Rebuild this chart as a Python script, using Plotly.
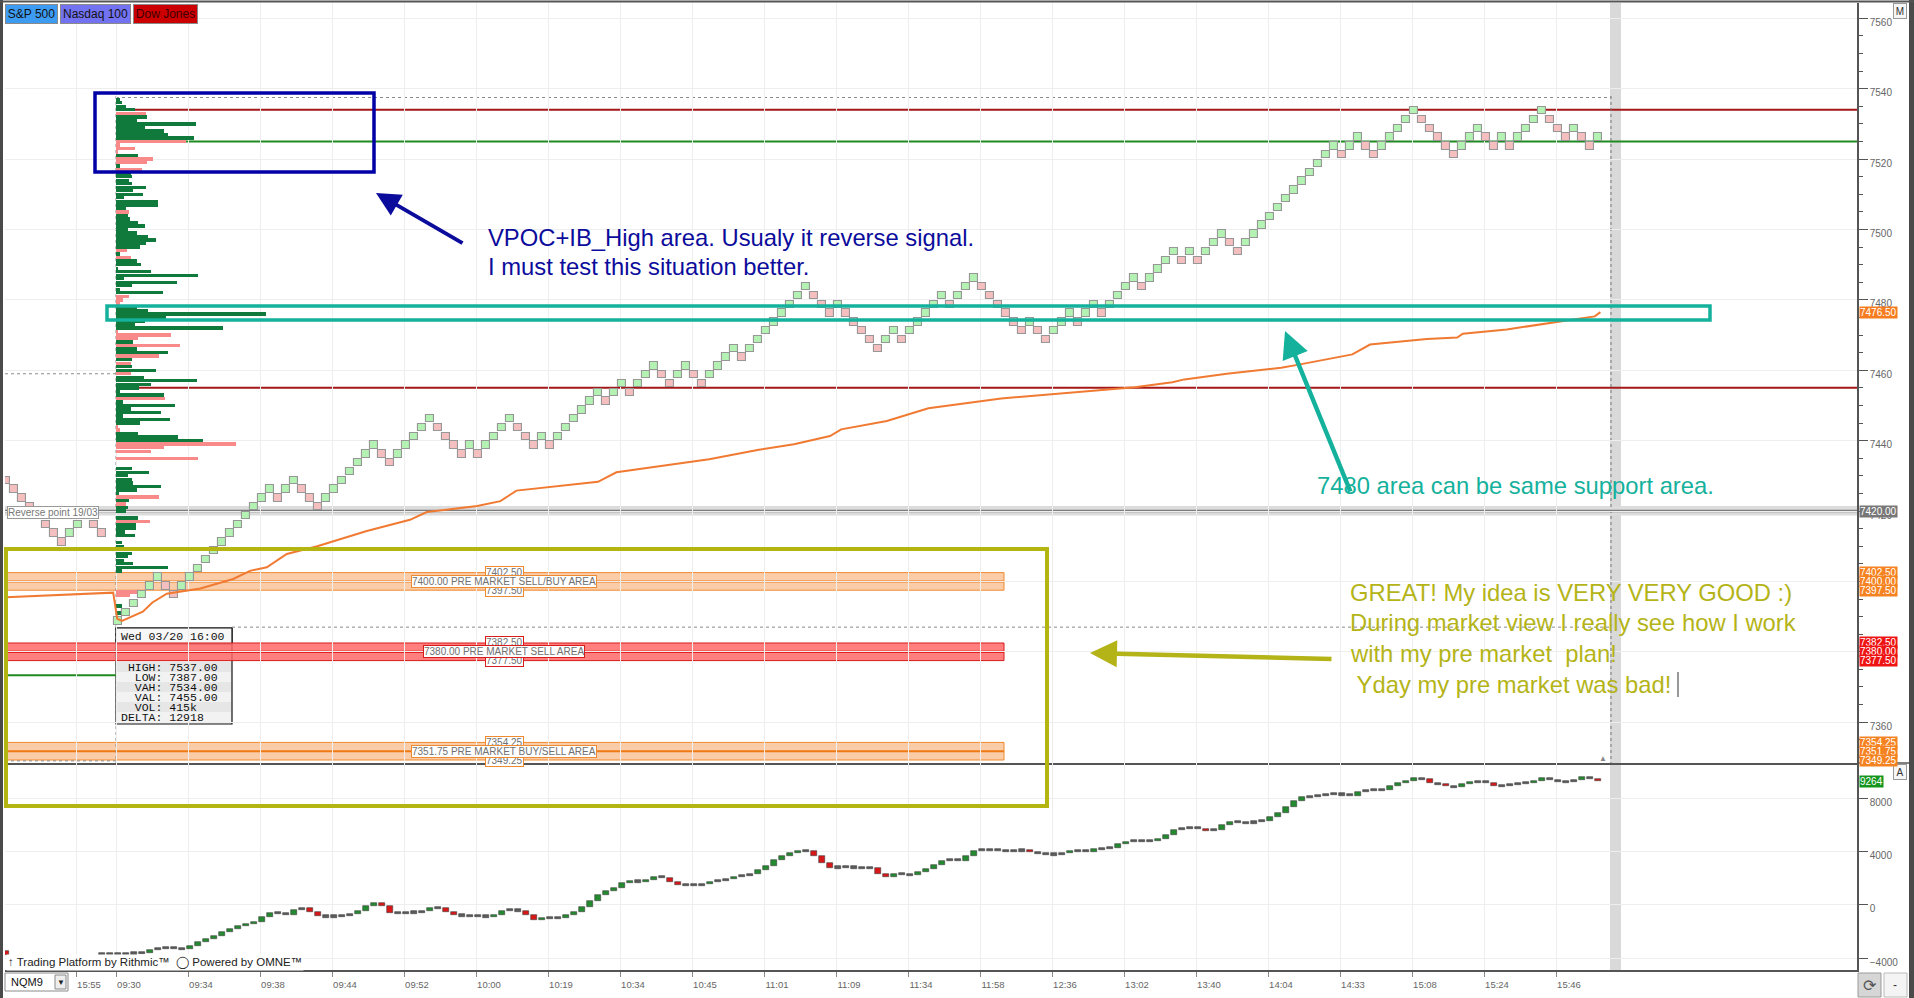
import plotly.graph_objects as go
from plotly.subplots import make_subplots

# ---- values (NQM9, 2.5 pt renko, Wed 03/20) ----

time_labels = ["15:55", "09:30", "09:34", "09:38", "09:44", "09:52", "10:00", "10:19",
               "10:34", "10:45", "11:01", "11:09", "11:34", "11:58", "12:36", "13:02",
               "13:40", "14:04", "14:33", "15:08", "15:24", "15:46"]
time_bars = [-5, 0, 9, 18, 27, 36, 45, 54, 63, 72, 81, 90, 99, 108, 117, 126,
             135, 144, 153, 162, 171, 180]

# brick mid prices, overnight bricks then the RTH session from 09:30
pre_bricks = [7428.75, 7426.25, 7423.75, 7421.25, 7418.75, 7416.25, 7413.75, 7411.25,
              7413.75, 7416.25, 7418.75, 7416.25, 7413.75]
rth_bricks = [
    7388.75, 7391.25, 7393.75, 7396.25, 7398.75, 7401.25, 7398.75, 7396.25, 7398.75, 7401.25,
    7403.75, 7406.25, 7408.75, 7411.25, 7413.75, 7416.25, 7418.75, 7421.25, 7423.75, 7426.25,
    7423.75, 7426.25, 7428.75, 7426.25, 7423.75, 7421.25, 7423.75, 7426.25, 7428.75,
    7431.25, 7433.75, 7436.25, 7438.75, 7436.25, 7433.75, 7436.25, 7438.75, 7441.25, 7443.75,
    7446.25, 7443.75, 7441.25, 7438.75, 7436.25, 7438.75, 7436.25, 7438.75, 7441.25, 7443.75,
    7446.25, 7443.75, 7441.25, 7438.75, 7441.25, 7438.75, 7441.25, 7443.75, 7446.25, 7448.75,
    7451.25, 7453.75, 7451.25, 7453.75, 7456.25, 7453.75, 7456.25, 7458.75, 7461.25, 7458.75,
    7456.25, 7458.75, 7461.25, 7458.75, 7456.25, 7458.75, 7461.25, 7463.75, 7466.25, 7463.75,
    7466.25, 7468.75, 7471.25, 7473.75, 7476.25, 7478.75, 7481.25, 7483.75, 7481.25, 7478.75,
    7476.25, 7478.75, 7476.25, 7473.75, 7471.25, 7468.75, 7466.25, 7468.75,
    7471.25, 7468.75, 7471.25, 7473.75, 7476.25, 7478.75, 7481.25, 7478.75, 7481.25, 7483.75,
    7486.25, 7483.75, 7481.25, 7478.75, 7476.25, 7473.75, 7471.25, 7473.75, 7471.25, 7468.75,
    7471.25, 7473.75, 7476.25, 7473.75, 7476.25, 7478.75, 7476.25, 7478.75, 7481.25, 7483.75,
    7486.25, 7483.75, 7486.25, 7488.75, 7491.25, 7493.75, 7491.25, 7493.75, 7491.25, 7493.75,
    7496.25, 7498.75, 7496.25, 7493.75, 7496.25, 7498.75, 7501.25,
    7503.75, 7506.25, 7508.75, 7511.25, 7513.75, 7516.25, 7518.75, 7521.25, 7523.75, 7521.25,
    7523.75, 7526.25, 7523.75, 7521.25, 7523.75, 7526.25, 7528.75, 7531.25, 7533.75, 7531.25,
    7528.75, 7526.25, 7523.75, 7521.25, 7523.75, 7526.25, 7528.75, 7526.25, 7523.75, 7526.25,
    7523.75, 7526.25, 7528.75, 7531.25, 7533.75, 7531.25, 7528.75, 7526.25, 7528.75, 7526.25,
    7523.75, 7526.25]

# session volume profile, 1 pt rows (buy-side green rows / sell-side red rows)
buy_rows = [7537, 7536, 7535, 7534, 7532, 7531, 7530, 7529, 7528, 7527, 7526, 7521, 7518,
            7516, 7515, 7514, 7513, 7512, 7511, 7510, 7509, 7508, 7507, 7506, 7504, 7503,
            7502, 7501, 7500, 7499, 7498, 7497, 7496, 7495, 7493, 7491, 7490, 7489, 7488,
            7487, 7486, 7485, 7484, 7483, 7482, 7478, 7477, 7476, 7475, 7474, 7473, 7472,
            7468, 7466, 7465, 7463, 7461, 7460, 7458, 7457, 7456, 7455, 7454, 7453, 7451,
            7450, 7449, 7448, 7447, 7446, 7445, 7442, 7441, 7440, 7432, 7431, 7430, 7429,
            7428, 7427, 7426, 7425, 7423, 7421, 7420, 7418, 7416, 7415, 7414, 7413, 7411,
            7410, 7409, 7408, 7407, 7406, 7405, 7404, 7403, 7393, 7391, 7389]
buy_vol = [4, 6, 10, 19, 31, 21, 80, 29, 48, 52, 78, 22, 4,
           15, 16, 13, 16, 30, 17, 27, 8, 42, 42, 10, 12, 14,
           22, 29, 12, 21, 32, 40, 30, 24, 4, 21, 25, 2, 35,
           82, 8, 61, 16, 4, 47, 21, 32, 150, 50, 29, 19, 107,
           17, 21, 52, 16, 16, 40, 28, 81, 35, 23, 4, 48, 7,
           59, 15, 45, 7, 54, 24, 22, 62, 87, 16, 33, 12, 16,
           17, 45, 21, 3, 13, 12, 10, 22, 20, 20, 9, 19, 6,
           8, 36, 16, 12, 8, 17, 52, 6, 6, 6, 6]
sell_rows = [7533, 7525, 7524, 7523, 7522, 7520, 7519, 7517, 7505, 7494, 7492, 7481, 7480,
             7479, 7471, 7470, 7469, 7467, 7464, 7462, 7459, 7452, 7444, 7443, 7439, 7438,
             7437, 7435, 7424, 7422, 7417, 7397, 7396]
sell_vol = [30, 70, 4, 19, 2, 37, 31, 26, 13, 11, 15, 13, 7,
            4, 2, 55, 22, 64, 43, 15, 15, 49, 2, 4, 120, 48,
            35, 82, 43, 10, 34, 24, 14]

# VWAP (bar index, price)
vwap_bar = [-14, -7.6, -3.5, -0.6, -0.1, 0.5, 3.1, 4.3, 6.1, 10.3, 14.4, 16.5, 18.6, 21.1,
            24.9, 31.1, 36.5, 38.6, 44.9, 47.8, 49.8, 60, 62.3, 65.4, 71.1, 73.9, 80.1, 84.5,
            89, 90.4, 96.1, 101.3, 110.4, 119.5, 127.1, 131.8, 133.3, 138.6, 145.4, 147.6,
            154.3, 156.5, 163.6, 167.4, 168.1, 173.6, 178.1, 181.3, 184.6, 185.3]
vwap = [7395.5, 7396.2, 7396.6, 7396.8, 7389.4, 7388.8, 7391.4, 7394.0, 7396.5, 7398.0,
        7400.7, 7403.0, 7404.0, 7407.8, 7410.0, 7414.3, 7417.5, 7419.7, 7421.4, 7422.8,
        7425.8, 7428.3, 7431.0, 7432.0, 7433.9, 7434.7, 7437.4, 7439.0, 7441.3, 7443.2,
        7445.6, 7449.2, 7452.0, 7453.8, 7455.2, 7456.6, 7457.4, 7459.0, 7460.7, 7461.6,
        7464.5, 7467.3, 7468.9, 7469.3, 7470.4, 7471.6, 7473.0, 7474.2, 7475.3, 7476.5]

# cumulative delta per bar (lower pane)
pre_delta_bars = [-14, -2, -1]
pre_delta_open = -3470
pre_delta = [-3770, -3700, -3680]
rth_delta = [
    -3700, -3680, -3650, -3600, -3380, -3280, -3200, -3300, -3300, -3080,
    -2830, -2600, -2330, -2080, -1800, -1580, -1430, -1280, -950, -600,
    -680, -750, -380, -280, -580, -830, -950, -830, -830, -700,
    -450, -80, 100, -130, -600, -700, -600, -580, -500, -280,
    -250, -530, -750, -880, -880, -830, -950, -750, -450, -380,
    -500, -780, -1150, -1000, -950, -1000, -750, -530, -150, 270,
    750, 1050, 1230, 1600, 1800, 1680, 1850, 2100, 2000, 1680,
    1500, 1500, 1430, 1550, 1700, 1800, 1900, 2070, 2170, 2270,
    2570, 2900, 3350, 3680, 3850, 4000, 4000, 3650, 3150, 2780,
    2800, 2850, 2730, 2780, 2730, 2300, 2100, 2300, 2300, 2200,
    2420, 2650, 2970, 3300, 3350, 3300, 3630, 4030, 4150, 4050,
    4100, 4000, 4050, 4080, 3930, 3880, 3780, 3750, 3880, 4050,
    4050, 3980, 4180, 4230, 4250, 4530, 4700, 4830, 4780, 4800,
    4950, 5250, 5630, 5700, 5750, 5700, 5550, 5630, 5980, 6230,
    6130, 6130, 6200, 6300, 6550, 6880, 7330, 7750, 8050, 8150,
    8200, 8300, 8300, 8230, 8180, 8450, 8580, 8580, 8600, 8880,
    9100, 9250, 9510, 9400, 9100, 9060, 8900, 8800, 9050, 9230,
    9230, 9130, 8930, 8930, 8980, 9060, 9150, 9300, 9480, 9360,
    9230, 9230, 9360, 9550, 9430, 9264]

# levels
session_high, session_low = 7537, 7387
vah, val_, ib_high = 7534, 7455, 7525
prev_level, reversal_level, overnight_green = 7459, 7420, 7373.3
zones = [  # (low, mid, high, text, kind)
    (7397.50, 7400.00, 7402.50, "7400.00 PRE MARKET SELL/BUY AREA", "orange"),
    (7377.50, 7380.00, 7382.50, "7380.00 PRE MARKET SELL AREA", "red"),
    (7349.25, 7351.75, 7354.25, "7351.75 PRE MARKET BUY/SELL AREA", "orange"),
]
stats = [("HIGH", "7537.00"), ("LOW", "7387.00"), ("VAH", "7534.00"),
         ("VAL", "7455.00"), ("VOL", "415k"), ("DELTA", "12918")]

# ---- page geometry ----
W, H = 1914, 998
ML, MR, MT, MB = 5, 57, 3, 28
PW, PH = W - ML - MR, H - MT - MB
SPLIT = 763


def px(x):
    return (x - ML) / PW


def py(y):
    return 1 - (y - MT) / PH


def bar_at(x):
    # bar 0 sits at pixel column 118, 8 px per renko bar
    return (x - 118) / 8


GRID = "#eeeeee"
FONT = "Liberation Sans"

fig = make_subplots(rows=2, cols=1, shared_xaxes=True, vertical_spacing=0)


# renko bricks
def brick_trace(xs, mids, first_up):
    cols = []
    prev = None
    for m in mids:
        up = first_up if prev is None else m > prev
        cols.append("#b3f2b3" if up else "#f6bfbf")
        prev = m
    return go.Bar(x=list(xs), y=[2.1] * len(mids), base=[m - 1.05 for m in mids],
                  width=0.88, marker=dict(color=cols, line=dict(color="#979797", width=1.1)),
                  hoverinfo="skip", showlegend=False)


# volume profile
fig.add_trace(go.Bar(y=buy_rows, x=[v / 8 for v in buy_vol], base=bar_at(116),
                     orientation="h", width=0.95, marker=dict(color="#0f7a3c", line_width=0),
                     hoverinfo="skip", showlegend=False), row=1, col=1)
fig.add_trace(go.Bar(y=sell_rows, x=[v / 8 for v in sell_vol], base=bar_at(116),
                     orientation="h", width=0.95, marker=dict(color="#f88a8a", line_width=0),
                     hoverinfo="skip", showlegend=False), row=1, col=1)

fig.add_trace(brick_trace(range(-14, -14 + len(pre_bricks)), pre_bricks, False), row=1, col=1)
fig.add_trace(brick_trace(range(len(rth_bricks)), rth_bricks, True), row=1, col=1)

fig.add_trace(go.Scatter(x=vwap_bar, y=vwap, mode="lines", line=dict(color="#f07a32", width=2),
                         hoverinfo="skip", showlegend=False), row=1, col=1)


# delta candles
def delta_trace(xs, closes, first_open):
    base, hgt, col = [], [], []
    prev = first_open
    for c in closes:
        d = c - prev
        if abs(d) < 150:
            mid = (prev + c) / 2
            base.append(mid - 80)
            hgt.append(160)
            col.append("#5c5c5c")
        else:
            base.append(min(prev, c))
            hgt.append(abs(d))
            col.append("#238a2f" if d > 0 else "#d81818")
        prev = c
    return go.Bar(x=list(xs), y=hgt, base=base, width=0.74,
                  marker=dict(color=col, line=dict(color="#3a3a3a", width=0.6)),
                  hoverinfo="skip", showlegend=False)


fig.add_trace(delta_trace(pre_delta_bars, pre_delta, pre_delta_open), row=2, col=1)
fig.add_trace(delta_trace(range(len(rth_delta)), rth_delta, pre_delta[-1]), row=2, col=1)

shapes = []


def pline(x0, y0, x1, y1, color, width, dash=None, layer="above"):
    shapes.append(dict(type="line", xref="paper", yref="paper", x0=px(x0), x1=px(x1),
                       y0=py(y0), y1=py(y1), layer=layer,
                       line=dict(color=color, width=width, dash=dash)))


def prect(x0, y0, x1, y1, line, width, fill="rgba(0,0,0,0)", layer="above"):
    shapes.append(dict(type="rect", xref="paper", yref="paper", x0=px(x0), x1=px(x1),
                       y0=py(y1), y1=py(y0), layer=layer, fillcolor=fill,
                       line=dict(color=line, width=width)))


def level(price, x0, x1, color, width, dash=None, layer="between"):
    shapes.append(dict(type="line", xref="paper", yref="y", x0=px(x0), x1=px(x1),
                       y0=price, y1=price, layer=layer,
                       line=dict(color=color, width=width, dash=dash)))


# current-bar band
prect(1610, MT, 1621, 970, "rgba(0,0,0,0)", 0, "#d9d9d9", "below")

# reversal line 19/03
shapes.append(dict(type="rect", xref="paper", yref="y", x0=0, x1=1, y0=reversal_level - 1.3,
                   y1=reversal_level + 1.4, fillcolor="#dcdcdc", line_width=0, layer="between"))
level(reversal_level, ML, 1857, "#7c7c7c", 2.5)

# tooltip body (drawn before the zones so the red band sits on top)
prect(116, 628, 232, 724, "#111111", 1.2, "#f2f2f2", "between")
for k in range(len(stats)):
    if k % 2 == 0:
        prect(117, 662 + 10 * k, 231, 672 + 10 * k, "rgba(0,0,0,0)", 0, "#e6e6e6", "between")
prect(116, 628, 232, 644, "#111111", 1.2, "#f7f7f7", "between")

zone_style = {"orange": ("rgba(246,170,110,0.6)", "#f08a30", "#ef7a14"),
              "red": ("rgba(255,105,105,0.85)", "#d81c1c", "#dd0000")}
for lo, mid, hi, _, kind in zones:
    fill, edge, centre = zone_style[kind]
    shapes.append(dict(type="rect", xref="paper", yref="y", x0=px(ML), x1=px(1004), y0=lo,
                       y1=hi, fillcolor=fill, line=dict(color=edge, width=1), layer="between"))
    level(mid, ML, 1004, centre, 2)

# profile reference levels
level(vah, 116, 1857, "#a41818", 2)
level(ib_high, 116, 1857, "#1f8a1f", 2)
level(val_, 116, 1857, "#a41818", 2)
level(overnight_green, ML, 116, "#1f8a1f", 2)
level(session_high + 0.5, 116, 1611, "#8a8a8a", 1, "3px,3px")
level(session_low, 232, 1611, "#8a8a8a", 1, "3px,3px")
level(prev_level, ML, 116, "#8a8a8a", 1, "3px,3px")
level(7349.0, ML, 116, "#8a8a8a", 1, "3px,3px")
pline(116, 96, 116, SPLIT, "#8a8a8a", 1, "3px,3px", "between")
pline(1611, 96, 1611, SPLIT, "#777777", 1, "3px,3px", "between")

# frame
prect(0, 0, 3, H, "rgba(0,0,0,0)", 0, "#4a4a4a")
prect(1909, 0, W, H, "rgba(0,0,0,0)", 0, "#4a4a4a")
pline(0, 1.5, W, 1.5, "#555555", 2)
pline(1857, SPLIT, 1909, SPLIT, "#555555", 1.5)

# hand-drawn markup
prect(95, 93, 374, 172, "#0000a6", 3.5)
prect(107, 306, 1710, 320, "#14b19c", 3.5)
prect(6, 549, 1047, 806, "#b5b512", 4)
pline(1678, 672, 1678, 697, "#555555", 1.2)

# bottom-left symbol box and bottom-right buttons
prect(5, 973, 68, 991, "#8a8a8a", 1, "#ffffff")
prect(55, 975, 66, 989, "#8a8a8a", 1, "#eeeeee")
prect(1858, 973, 1881, 997, "#9a9a9a", 1, "#d6d6d6")
prect(1884, 973, 1907, 997, "#bbbbbb", 1, "#f4f4f4")

ann = []


def text(x, y, s, color, size, anchor="left", family=FONT, **kw):
    ann.append(dict(xref="paper", yref="paper", x=px(x), y=py(y), xanchor=anchor,
                    yanchor="middle", showarrow=False, text=s,
                    font=dict(color=color, size=size, family=family), **kw))


def arrow(hx, hy, tx, ty, color, width):
    ann.append(dict(xref="paper", yref="paper", x=px(hx), y=py(hy), ax=tx - hx, ay=ty - hy,
                    axref="pixel", ayref="pixel", text="", showarrow=True, arrowhead=2,
                    arrowsize=1.2, arrowwidth=width, arrowcolor=color, standoff=0))


def axis_tag(price, s, bg, yref="y"):
    ann.append(dict(xref="paper", yref=yref, x=px(1859), y=price, xanchor="left",
                    yanchor="middle", showarrow=False, text=s, bgcolor=bg, borderpad=0,
                    font=dict(color="white", size=10, family=FONT)))


# index buttons
for s, x0, x1, bg, fc in [("S&P 500", 5, 58, "#3d9cf2", "#111111"),
                          ("Nasdaq 100", 60, 131, "#7373f2", "#111111"),
                          ("Dow Jones", 133, 198, "#cc0000", "#3d0000")]:
    text((x0 + x1) / 2, 14, s, fc, 12, "center", bgcolor=bg, bordercolor="#8a8a8a",
         borderwidth=1, width=x1 - x0 - 4, height=16)
text(1900, 11, "M", "#333333", 10, "center", bordercolor="#999999", borderwidth=1,
     bgcolor="#f6f6f6", width=10, height=12)
text(1900, 772, "A", "#333333", 10, "center", bordercolor="#999999", borderwidth=1,
     bgcolor="#f6f6f6", width=10, height=12)

text(7, 512, "Reverse point 19/03", "#777777", 10, bgcolor="#ffffff",
     bordercolor="#999999", borderwidth=1, borderpad=0)

# zone captions
for lo, mid, hi, caption, kind in zones:
    edge = zone_style[kind][1]
    for price, s in [(hi, f"{hi:.2f}"), (lo, f"{lo:.2f}"), (mid, caption)]:
        ann.append(dict(xref="paper", yref="y", x=px(504), y=price, xanchor="center",
                        yanchor="middle", showarrow=False, text=s, bgcolor="#ffffff",
                        bordercolor=edge, borderwidth=1, borderpad=0,
                        font=dict(color="#707070", size=10, family=FONT)))

# tooltip text
MONO = "Liberation Mono"
text(119, 636, "Wed 03/20 16:00", "#111111", 11.5, family=MONO)
for k, (lab, val) in enumerate(stats):
    s = (lab + ":").rjust(6).replace(" ", "\u00a0") + "\u00a0" + val
    text(119, 667 + 10 * k, s, "#111111", 11.5, family=MONO)

# trader's notes
BLUE, TEAL, OLIVE = "#0c0c9c", "#14b19c", "#b4b418"
NOTE = 23.8
text(486, 237, "VPOC+IB_High area. Usualy it reverse signal.", BLUE, NOTE)
text(486, 267, "I must test this situation better.", BLUE, NOTE)
text(1315, 485, "7480 area can be same support area.", TEAL, NOTE)
text(1348, 592, "GREAT! My idea is VERY VERY GOOD :)", OLIVE, NOTE)
text(1348, 622, "During market view I really see how I work", OLIVE, NOTE)
text(1348, 653, "with my pre market\u00a0 plan!", OLIVE, NOTE)
text(1348, 684, "\u00a0Yday my pre market was bad!", OLIVE, NOTE)
arrow(376, 193, 464, 244, BLUE, 4)
arrow(1285, 331, 1351, 493, TEAL, 4.5)
arrow(1090, 653, 1333, 659, OLIVE, 4.5)

text(1603, 758, "\u25b2", "#888888", 8, "center")
text(6, 962, "\u2191 Trading Platform by Rithmic\u2122  \u25ef Powered by OMNE\u2122", "#222222",
     11.5, bgcolor="#ffffff")
text(9, 982, "NQM9", "#111111", 11)
text(60.5, 982, "\u25bc", "#222222", 8, "center")
text(1869.5, 985, "\u27f3", "#555555", 16, "center")
text(1895.5, 985, "-", "#333333", 12, "center")

# right-axis price tags
axis_tag(vwap[-1], f"{vwap[-1]:.2f}", "#f57c1f")
axis_tag(reversal_level, f"{reversal_level:.2f}", "#777777")
for lo, mid, hi, _, kind in zones:
    bg = "#f58220" if kind == "orange" else "#ee1414"
    for price in (hi, mid, lo):
        axis_tag(price, f"{price:.2f}", bg)
axis_tag(rth_delta[-1], f"{rth_delta[-1]}", "#14961e", "y2")

DOM = (970 - SPLIT) / PH
x_range = [bar_at(ML), bar_at(1857)]
tickpos = [b - 0.25 for b in time_bars]

fig.update_layout(
    width=W, height=H, margin=dict(l=ML, r=MR, t=MT, b=MB),
    paper_bgcolor="white", plot_bgcolor="white", barmode="overlay", bargap=0,
    showlegend=False, hovermode=False, font=dict(family=FONT, color="#555555"),
    shapes=shapes, annotations=ann,
    xaxis=dict(range=x_range, tickvals=tickpos, showticklabels=False, showgrid=True,
               gridcolor=GRID, zeroline=False, showline=True, linecolor="#555555",
               linewidth=1.5, ticks=""),
    xaxis2=dict(range=x_range, tickvals=tickpos, ticktext=time_labels, showgrid=True,
                gridcolor=GRID, zeroline=False, showline=True, linecolor="#555555",
                linewidth=2, ticks="outside", ticklen=5, tickcolor="#888888",
                tickfont=dict(size=9.5, color="#666666"), ticklabelshift=13),
    yaxis=dict(domain=[DOM, 1], range=[7348.4, 7564.35], side="right", tick0=7360, dtick=20,
               showgrid=True, gridcolor=GRID, zeroline=False, ticks="outside", ticklen=9,
               tickcolor="#555555", showline=True, linecolor="#555555", linewidth=1.5,
               tickfont=dict(size=10, color="#666666"), ticklabelshift=4,
               minor=dict(dtick=5, ticks="outside", ticklen=4, tickcolor="#555555",
                          showgrid=False)),
    yaxis2=dict(domain=[0, DOM], range=[-4900, 10625], side="right",
                tickvals=[-4000, 0, 4000, 8000], showgrid=True, gridcolor=GRID,
                zeroline=False, ticks="outside", ticklen=9, tickcolor="#555555",
                showline=True, linecolor="#555555", linewidth=1.5,
                tickfont=dict(size=10, color="#666666"), ticklabelshift=4),
)

fig.write_html("out.html", config={"displayModeBar": False},
               post_script="document.body.style.margin='0';")
